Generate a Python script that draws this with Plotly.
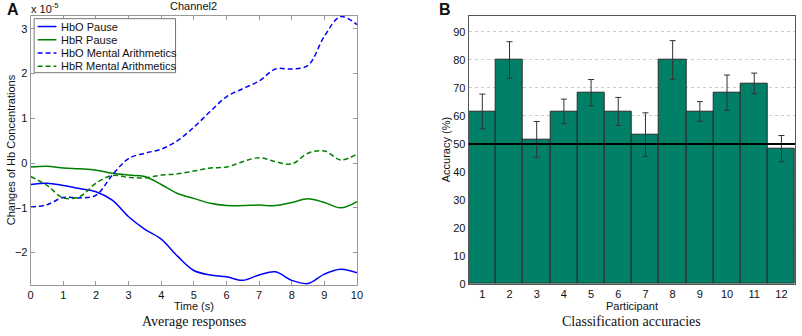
import plotly.graph_objects as go

# ---------------- data ----------------
time_s = [0, 0.5, 1, 1.5, 2, 2.5, 3, 3.5, 4, 4.5, 5, 5.5, 6, 6.5, 7, 7.5, 8, 8.5, 9, 9.5, 10]
hbo_pause = [-0.48, -0.45, -0.50, -0.57, -0.64, -0.83, -1.20, -1.48, -1.70, -2.08, -2.40,
             -2.50, -2.54, -2.62, -2.50, -2.43, -2.62, -2.69, -2.48, -2.37, -2.45]
hbr_pause = [-0.09, -0.07, -0.11, -0.13, -0.16, -0.23, -0.27, -0.30, -0.48, -0.68, -0.79,
             -0.90, -0.95, -0.95, -0.94, -0.95, -0.88, -0.80, -0.88, -1.00, -0.86]
hbo_mental = [-0.98, -0.93, -0.77, -0.78, -0.72, -0.27, 0.10, 0.22, 0.31, 0.50, 0.80,
              1.15, 1.48, 1.66, 1.83, 2.10, 2.10, 2.18, 2.83, 3.27, 3.09]
hbr_mental = [-0.30, -0.50, -0.78, -0.75, -0.45, -0.28, -0.32, -0.33, -0.27, -0.24, -0.18,
              -0.11, -0.09, 0.03, 0.12, 0.03, -0.02, 0.22, 0.27, 0.07, 0.20]
series_names = ["HbO Pause", "HbR Pause", "HbO Mental Arithmetics", "HbR Mental Arithmetics"]
series_colors = ["#0000FF", "#008000", "#0000FF", "#008000"]
series_dash = ["solid", "solid", "5px,3px", "5px,3px"]

participants = [1, 2, 3, 4, 5, 6, 7, 8, 9, 10, 11, 12]
accuracy = [61.6, 80.0, 51.6, 61.6, 68.3, 61.6, 53.3, 80.0, 61.6, 68.3, 71.6, 48.3]
acc_err = [6.2, 6.5, 6.4, 4.4, 4.7, 5.0, 7.8, 6.9, 3.5, 6.3, 3.7, 4.7]
chance_level = 50

W, H = 802, 336
def px(x):
    return x / W
def py(y):
    return 1 - y / H

fig = go.Figure()

for vals, name, col, dash in zip([hbo_pause, hbr_pause, hbo_mental, hbr_mental],
                                 series_names, series_colors, series_dash):
    fig.add_trace(go.Scatter(x=time_s, y=vals, mode="lines", name=name,
                             line=dict(color=col, width=1.5, dash=dash, shape="spline", smoothing=1.0),
                             showlegend=False, xaxis="x", yaxis="y", cliponaxis=True))

fig.add_trace(go.Bar(x=participants, y=accuracy, xaxis="x2", yaxis="y2",
                     marker=dict(color="#008066", line=dict(color="#2a2a2a", width=1)),
                     error_y=dict(type="data", array=acc_err, color="#333333", thickness=1, width=3),
                     showlegend=False))

font = "Liberation Sans, Arial, sans-serif"
serif = "Liberation Serif, Times New Roman, serif"
FS = 11

fig.update_layout(
    width=W, height=H, margin=dict(l=0, r=0, t=0, b=0),
    paper_bgcolor="white", plot_bgcolor="white",
    font=dict(family=font, size=FS, color="#111"),
    bargap=0,
    xaxis=dict(domain=[px(28), px(358)], range=[0, 10], tickvals=list(range(0, 11)),
               ticks="inside", ticklen=4, tickcolor="#999", showline=True, linecolor="#999",
               mirror="ticks", showgrid=False, zeroline=False, anchor="y"),
    yaxis=dict(domain=[py(290), py(16)], range=[-2.72, 3.29], tickvals=[-2, -1, 0, 1, 2, 3],
               ticks="inside", ticklen=4, tickcolor="#999", showline=True, linecolor="#999",
               mirror="ticks", showgrid=False, zeroline=False, anchor="x"),
    xaxis2=dict(domain=[px(471), px(801)], range=[0.5, 12.5], tickvals=participants,
                ticks="", showline=True, linecolor="#555", mirror=True,
                showgrid=False, zeroline=False, anchor="y2"),
    yaxis2=dict(domain=[py(289), py(16)], range=[0, 95.8], tickvals=list(range(0, 100, 10)),
                ticks="", showline=True, linecolor="#555", mirror=True,
                showgrid=True, gridcolor="#cccccc", griddash="dot", gridwidth=1,
                zeroline=False, anchor="x2"),
)

# chance line
fig.add_shape(type="line", xref="x2 domain", yref="y2", x0=0, x1=1, y0=chance_level, y1=chance_level,
              line=dict(color="black", width=2), layer="above")

# manual legend
fig.add_shape(type="rect", xref="paper", yref="paper", x0=px(31.5), x1=px(174.5), y0=py(74), y1=py(19),
              line=dict(color="#777", width=1), fillcolor="white", layer="above")
leg_y = [27, 40.5, 54, 67.5]
for yy, name, col, dash in zip(leg_y, series_names, series_colors, series_dash):
    fig.add_shape(type="line", xref="paper", yref="paper", x0=px(35), x1=px(54), y0=py(yy), y1=py(yy),
                  line=dict(color=col, width=1.5, dash=dash), layer="above")
    fig.add_annotation(xref="paper", yref="paper", x=px(57), y=py(yy), text=name, showarrow=False,
                       xanchor="left", yanchor="middle", font=dict(size=FS, family=font, color="#111"))

annots = [
    dict(x=px(10), y=py(10), text="<b>A</b>", size=16),
    dict(x=px(447), y=py(10), text="<b>B</b>", size=16),
    dict(x=px(193), y=py(6), text="Channel2", size=FS),
    dict(x=px(42), y=py(8), text="x 10<sup>-5</sup>", size=FS),
    dict(x=px(193), y=py(311.5), text="Time (s)", size=FS),
    dict(x=px(636), y=py(311.5), text="Participant", size=FS),
    dict(x=px(193), y=py(327), text="Average responses", size=14, fam=serif),
    dict(x=px(636), y=py(327), text="Classification accuracies", size=14, fam=serif),
]
for a in annots:
    fig.add_annotation(xref="paper", yref="paper", x=a["x"], y=a["y"], text=a["text"], showarrow=False,
                       xanchor="center", yanchor="middle",
                       font=dict(size=a["size"], family=a.get("fam", font), color="#111"))
fig.add_annotation(xref="paper", yref="paper", x=px(8), y=py(152), text="Changes of Hb Concentrations",
                   textangle=-90, showarrow=False, xanchor="center", yanchor="middle",
                   font=dict(size=FS, family=font, color="#111"))
fig.add_annotation(xref="paper", yref="paper", x=px(448), y=py(152), text="Accuracy (%)",
                   textangle=-90, showarrow=False, xanchor="center", yanchor="middle",
                   font=dict(size=FS, family=font, color="#111"))

fig.write_html("out.html", config={"displayModeBar": False},
               post_script="document.body.style.margin='0px';document.body.style.overflow='hidden';")
